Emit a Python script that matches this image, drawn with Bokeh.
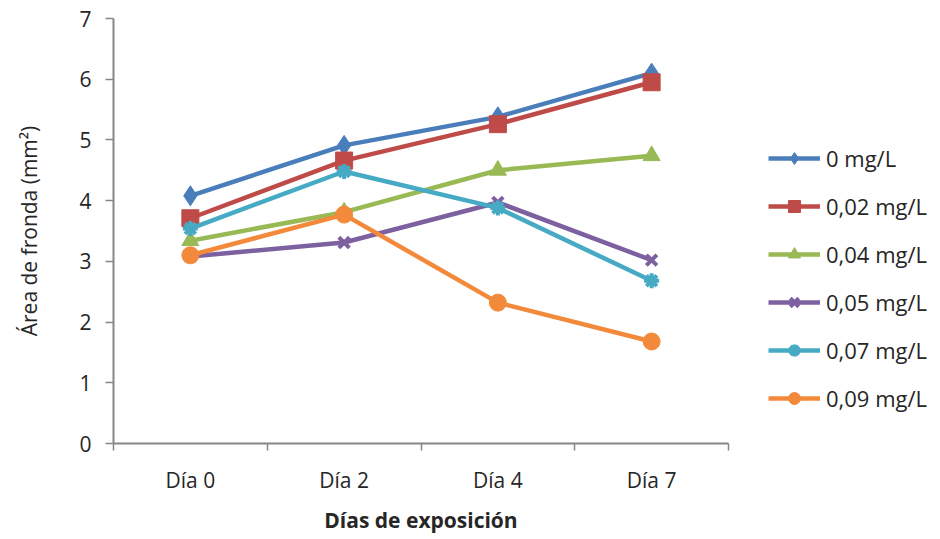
from bokeh.plotting import figure
from bokeh.models import Legend, LegendItem, FixedTicker, Range1d
from bokeh.embed import file_html
from bokeh.resources import INLINE

categories = ["Día 0", "Día 2", "Día 4", "Día 7"]
series_names = ["0 mg/L", "0,02 mg/L", "0,04 mg/L", "0,05 mg/L", "0,07 mg/L", "0,09 mg/L"]
s0 = [4.08, 4.91, 5.38, 6.10]
s002 = [3.71, 4.66, 5.26, 5.95]
s004 = [3.34, 3.81, 4.50, 4.74]
s005 = [3.08, 3.31, 3.97, 3.02]
s007 = [3.54, 4.48, 3.88, 2.68]
s009 = [3.10, 3.77, 2.32, 1.68]
y_ticks = [0, 1, 2, 3, 4, 5, 6, 7]

values = [s0, s002, s004, s005, s007, s009]
colors = ["#4A7EBB", "#BE4B48", "#98B954", "#7D60A0", "#46AAC5", "#F38A3B"]
markers = ["diamond", "square", "triangle", "x", "asterisk", "circle"]
sizes = [20, 17, 17, 15, 15, 17]

FONT = "Open Sans"
TXT = "#262626"

xs = list(range(len(categories)))

p = figure(frame_width=615, frame_height=425, output_backend="svg", toolbar_location=None,
           x_range=Range1d(-0.5, len(categories) - 0.5), y_range=Range1d(0, 7),
           min_border_left=113, min_border_right=0, min_border_top=18,
           min_border_bottom=94)
p.outline_line_color = None
p.xgrid.visible = False
p.ygrid.visible = False
p.background_fill_color = "white"
p.border_fill_color = "white"

items = []
for name, vals, c, m, s in zip(series_names, values, colors, markers, sizes):
    r1 = p.line(xs, vals, line_color=c, line_width=4.5)
    if m in ("x", "asterisk"):
        r2 = p.scatter(xs, vals, marker=m, size=s, line_color=c, line_width=4)
    else:
        r2 = p.scatter(xs, vals, marker=m, size=s, fill_color=c, line_color=c)
    items.append(LegendItem(label=name, renderers=[r1, r2]))

xa = p.xaxis[0]
xa.ticker = FixedTicker(ticks=xs, minor_ticks=[x - 0.5 for x in xs] + [len(xs) - 0.5])
xa.major_label_overrides = {i: c for i, c in enumerate(categories)}
xa.major_tick_out = 0
xa.major_tick_in = 0
xa.minor_tick_out = 7
xa.minor_tick_in = 0
xa.minor_tick_line_color = "#868686"
xa.minor_tick_line_width = 1.5
xa.axis_line_color = "#868686"
xa.axis_line_width = 2
xa.major_label_text_font = FONT
xa.major_label_text_font_size = "21px"
xa.major_label_text_color = TXT
xa.major_label_standoff = 15
xa.axis_label = "Días de exposición"
xa.axis_label_text_font = FONT
xa.axis_label_text_font_size = "21px"
xa.axis_label_text_font_style = "bold"
xa.axis_label_text_color = TXT
xa.axis_label_standoff = 9

ya = p.yaxis[0]
ya.ticker = FixedTicker(ticks=y_ticks)
ya.minor_tick_out = 0
ya.minor_tick_in = 0
ya.major_tick_out = 8
ya.major_tick_in = 0
ya.major_tick_line_color = "#868686"
ya.major_tick_line_width = 1.5
ya.axis_line_color = "#868686"
ya.axis_line_width = 2
ya.major_label_text_font = FONT
ya.major_label_text_font_size = "21px"
ya.major_label_text_color = TXT
ya.major_label_standoff = 14
ya.axis_label = "Área de fronda (mm²)"
ya.axis_label_text_font = FONT
ya.axis_label_text_font_size = "21px"
ya.axis_label_text_font_style = "normal"
ya.axis_label_text_color = TXT
ya.axis_label_standoff = 33

legend = Legend(items=items, location=(40, 30), orientation="vertical")
legend.glyph_width = 52
legend.glyph_height = 30
legend.label_height = 20
legend.spacing = 18
legend.label_standoff = 6
legend.label_text_font = FONT
legend.label_text_font_size = "22px"
legend.label_text_color = TXT
legend.border_line_color = None
legend.background_fill_alpha = 0
legend.padding = 0
legend.margin = 0
p.add_layout(legend, "right")

open("out.html", "w").write(file_html(p, INLINE))
